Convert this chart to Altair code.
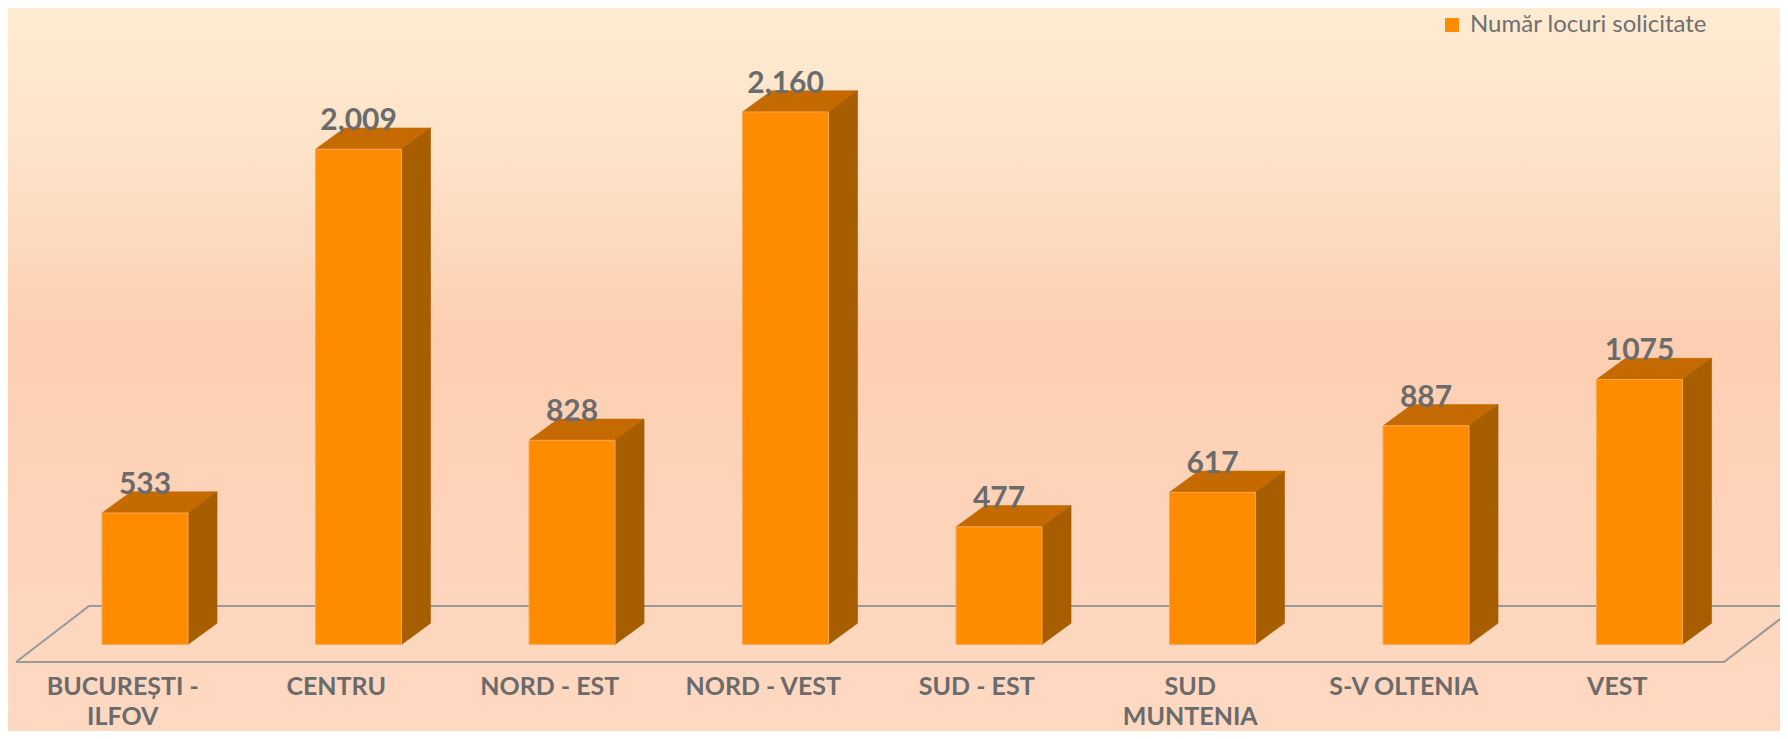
import altair as alt
import pandas as pd

# ---------------- data ----------------
regions = ["BUCUREȘTI -\nILFOV", "CENTRU", "NORD - EST", "NORD - VEST",
           "SUD - EST", "SUD\nMUNTENIA", "S-V OLTENIA", "VEST"]
values = [533, 2009, 828, 2160, 477, 617, 887, 1075]
value_labels = ["533", "2,009", "828", "2,160", "477", "617", "887", "1075"]
series_name = "Număr locuri solicitate"

# ---------------- layout / style constants ----------------
W, H = 1772, 723
STEP = 213.5                      # px per category
X_DOMAIN = [-8 / STEP, (W - 8) / STEP]
PX_PER_UNIT = 0.2465
Y_DOMAIN = [(636.4 - H) / PX_PER_UNIT, 636.4 / PX_PER_UNIT]

FL = 0.403      # front face left offset within category (category units)
FW = 0.4028     # front face width
DX = 0.1358     # depth (x)
DV = 86.0       # depth (value units)
FLOOR_FRONT = -71.4
FLOOR_BACK = 155.8
FLOOR_DX = 0.342
N = len(regions)

FONT = "Lato"
TXT = "#6b6b6b"
FRONT = "#FF8C00"
TOP = "#C46A00"
SIDE = "#A65E00"

df = pd.DataFrame({
    "region": regions,
    "idx": list(range(N)),
    "value": values,
    "label": value_labels,
    "serie": [series_name] * N,
})

xs = alt.Scale(domain=X_DOMAIN, nice=False, zero=False)
ys = alt.Scale(domain=Y_DOMAIN, nice=False, zero=False)

base = alt.Chart(df)

# background gradient
bg = alt.Chart(alt.Data(values=[{"a": 1}])).mark_rect(
    fill=alt.Gradient(
        gradient="linear", x1=0, x2=0, y1=0, y2=1,
        stops=[alt.GradientStop(color="#FEEBD2", offset=0),
               alt.GradientStop(color="#FDE3C8", offset=0.2),
               alt.GradientStop(color="#FDCFB2", offset=0.45),
               alt.GradientStop(color="#FED9C2", offset=1)],
    )
).encode(x=alt.value(0), x2=alt.value(W), y=alt.value(0), y2=alt.value(H))

# floor outline
floor = alt.Chart(alt.Data(values=[{"p": i} for i in range(5)])).transform_calculate(
    fx=f"[0, {N}, {N}+{FLOOR_DX}, {FLOOR_DX}, 0][datum.p]",
    fy=f"[{FLOOR_FRONT}, {FLOOR_FRONT}, {FLOOR_BACK}, {FLOOR_BACK}, {FLOOR_FRONT}][datum.p]",
).mark_line(color="#9a9a9a", strokeWidth=2.2).encode(
    x=alt.X("fx:Q", scale=xs, axis=None),
    y=alt.Y("fy:Q", scale=ys, axis=None),
    order="p:Q",
)

# top face
top = base.transform_calculate(k0="0", k1="1", k2="2", k3="3").transform_fold(
    ["k0", "k1", "k2", "k3"], as_=["key", "k"]
).transform_calculate(
    tx=f"datum.idx + {FL} + [0, {DX}, {FW}, {FW}+{DX}][datum.k]",
    ty=f"datum.value + [0, {DV}, {DV}, {DV}][datum.k]",
    ty2=f"datum.value + [0, 0, 0, {DV}][datum.k]",
).mark_area(color=TOP, stroke=TOP, strokeWidth=0.6).encode(
    x=alt.X("tx:Q", scale=xs, axis=None),
    y=alt.Y("ty:Q", scale=ys, axis=None),
    y2="ty2:Q",
    detail="region:N",
)

# side face
side = base.transform_calculate(k0="0", k1="1").transform_fold(
    ["k0", "k1"], as_=["key", "k"]
).transform_calculate(
    sx=f"datum.idx + {FL} + {FW} + datum.k*{DX}",
    sy=f"datum.value + datum.k*{DV}",
    sy2=f"datum.k*{DV}",
).mark_area(color=SIDE, stroke=SIDE, strokeWidth=0.6).encode(
    x=alt.X("sx:Q", scale=xs, axis=None),
    y=alt.Y("sy:Q", scale=ys, axis=None),
    y2="sy2:Q",
    detail="region:N",
)

# front face (carries the legend)
front = base.transform_calculate(
    fx=f"datum.idx + {FL}", fx2=f"datum.idx + {FL} + {FW}", zero="0"
).mark_rect(stroke="#F9A650", strokeWidth=1).encode(
    x=alt.X("fx:Q", scale=xs, axis=None),
    x2="fx2:Q",
    y=alt.Y("value:Q", scale=ys, axis=None),
    y2="zero:Q",
    color=alt.Color("serie:N", scale=alt.Scale(range=[FRONT]),
                    legend=alt.Legend(orient="none", legendX=1432, legendY=5,
                                      title=None, symbolType="square",
                                      symbolSize=196, symbolStrokeWidth=0,
                                      labelFont=FONT, labelFontSize=24,
                                      labelColor="#707070", padding=0,
                                      labelOffset=6, labelLimit=0)),
)

# value labels
vlabels = base.transform_calculate(
    cx=f"datum.idx + {FL} + {FW}/2"
).mark_text(font=FONT, fontWeight="bold", fontSize=30, color=TXT,
            baseline="alphabetic", align="center", dy=-19).encode(
    x=alt.X("cx:Q", scale=xs, axis=None),
    y=alt.Y("value:Q", scale=ys, axis=None),
    text="label:N",
)

# category labels
xlabels = base.transform_calculate(
    cx="datum.idx + 0.5"
).mark_text(font=FONT, fontWeight="bold", fontSize=25, color=TXT,
            baseline="alphabetic", align="center", lineBreak="\n",
            lineHeight=30).encode(
    x=alt.X("cx:Q", scale=xs, axis=None),
    y=alt.value(687),
    text="region:N",
)

chart = alt.layer(bg, floor, top, side, front, vlabels, xlabels).properties(
    width=W, height=H,
    autosize=alt.AutoSizeParams(type="none"),
    padding=0,
).configure_view(stroke=None).configure(background="#FDDCC4")

chart.save("out.html", embed_options={"renderer": "svg", "actions": False})
